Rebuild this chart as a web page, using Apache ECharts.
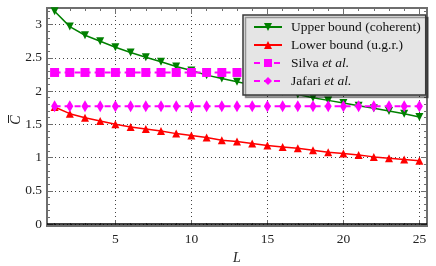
<!DOCTYPE html>
<html>
<head>
<meta charset="utf-8">
<script src="https://cdn.jsdelivr.net/npm/echarts@6/dist/echarts.min.js"></script>
<style>html,body{margin:0;padding:0;background:#fff}#c{width:436px;height:266px}</style>
</head>
<body>
<div id="c"></div>
<script>
// ---- data ----
const L = [1,2,3,4,5,6,7,8,9,10,11,12,13,14,15,16,17,18,19,20,21,22,23,24,25];
const upperCoherent = [3.20,2.97,2.84,2.75,2.66,2.58,2.51,2.44,2.37,2.31,2.24,2.19,2.14,2.09,2.04,1.99,1.95,1.90,1.86,1.82,1.78,1.74,1.70,1.66,1.61];
const lowerUgr = [1.76,1.66,1.60,1.55,1.50,1.46,1.43,1.40,1.36,1.33,1.30,1.26,1.24,1.21,1.18,1.16,1.14,1.11,1.08,1.06,1.04,1.01,0.99,0.97,0.95];
const silva = [2.28,2.28,2.28,2.28,2.28,2.28,2.28,2.28,2.28,2.28,2.28,2.28,2.28,2.28,2.28,2.28,2.28,2.28,2.28,2.28,2.28,2.28,2.28,2.28,2.28];
const jafari = [1.77,1.77,1.77,1.77,1.77,1.77,1.77,1.77,1.77,1.77,1.77,1.77,1.77,1.77,1.77,1.77,1.77,1.77,1.77,1.77,1.77,1.77,1.77,1.77,1.77];
const xMajor = [5,10,15,20,25];
const xMinor = [1,2,3,4,6,7,8,9,11,12,13,14,16,17,18,19,21,22,23,24];
const yMajor = [0,0.5,1,1.5,2,2.5,3];
const yMinor = [0.1,0.2,0.3,0.4,0.6,0.7,0.8,0.9,1.1,1.2,1.3,1.4,1.6,1.7,1.8,1.9,2.1,2.2,2.3,2.4,2.6,2.7,2.8,2.9,3.1,3.2];
const names = ['Upper bound (coherent)','Lower bound (u.g.r.)','Silva et al.','Jafari et al.'];

const pairs = arr => L.map((l,i)=>[l,arr[i]]);
const FONT = '"Liberation Serif", "DejaVu Serif", serif';
const frame = {show:true, onZero:false, lineStyle:{color:'#6e6e6e', width:2}};
const tickC = '#6e6e6e';
const XMIN = 0.5, XMAX = 25.5, YMIN = -0.03, YMAX = 3.25;

function xAx(pos, vals, len, labels, split){
  return {
    type:'value', position:pos, min:XMIN, max:XMAX,
    axisLine: frame,
    axisTick:{show:true, inside:true, length:len, customValues:vals, lineStyle:{color:tickC, width:1}},
    axisLabel: labels ? {show:true, customValues:vals, fontFamily:FONT, fontSize:13.5, color:'#222', margin:6} : {show:false},
    splitLine: split ? {show:true, lineStyle:{color:'#444', type:[1,3], width:1}} : {show:false},
    name: labels ? 'L' : '', nameLocation:'middle', nameGap:22,
    nameTextStyle:{fontFamily:FONT, fontSize:14, fontStyle:'italic', color:'#222'}
  };
}
function yAx(pos, vals, len, labels, split){
  return {
    type:'value', position:pos, min:YMIN, max:YMAX,
    axisLine: frame,
    axisTick:{show:true, inside:true, length:len, customValues:vals, lineStyle:{color:tickC, width:1}},
    axisLabel: labels ? {show:true, customValues:vals, fontFamily:FONT, fontSize:13.5, color:'#222', margin:5} : {show:false},
    splitLine: split ? {show:true, lineStyle:{color:'#444', type:[1,3], width:1}} : {show:false}
  };
}

const chart = echarts.init(document.getElementById('c'), null, {renderer:'canvas'});
chart.setOption({
  animation:false,
  backgroundColor:'#fff',
  grid:{left:47, right:9, top:8, bottom:40, containLabel:false, outerBoundsMode:'none'},
  xAxis:[ xAx('bottom', xMajor, 6, true, true), xAx('bottom', xMinor, 3, false, false),
          xAx('top', xMajor, 6, false, false), xAx('top', xMinor, 3, false, false) ],
  yAxis:[ yAx('left', yMajor, 6, true, true), yAx('left', yMinor, 3, false, false),
          yAx('right', yMajor, 6, false, false), yAx('right', yMinor, 3, false, false) ],
  graphic:[{
    type:'group', x:16, y:120, rotation:Math.PI/2, silent:true,
    children:[
      {type:'text', x:0, y:0, style:{text:'C', font:'italic 14px "Liberation Serif", serif', fill:'#222', align:'center', verticalAlign:'middle'}},
      {type:'line', shape:{x1:-3, y1:-7.5, x2:5, y2:-7.5}, style:{stroke:'#222', lineWidth:1}}
    ]
  }],
  legend:{
    left:243, top:15, orient:'vertical', z:20, zlevel:0,
    itemWidth:28, itemHeight:10, itemGap:2,
    padding:[4,5,6,10],
    backgroundColor:'#e5e5e5', borderColor:'#3a3a3a', borderWidth:1.5, borderRadius:0,
    shadowColor:'rgba(0,0,0,0.35)', shadowOffsetX:2.5, shadowOffsetY:2.5, shadowBlur:0,
    textStyle:{fontFamily:FONT, fontSize:13.5, lineHeight:16, color:'#111', padding:[0,0,0,4],
      rich:{i:{fontFamily:FONT, fontSize:13.5, lineHeight:16, fontStyle:'italic', color:'#111'}}},
    formatter: n => n.replace('et al.', '{i|et al.}'),
    data: names
  },
  series:[
    {name:names[0], type:'line', data:pairs(upperCoherent), symbol:'triangle', symbolRotate:180, symbolSize:8,
     itemStyle:{color:'#008000'}, lineStyle:{color:'#008000', width:1.5}, z:2},
    {name:names[1], type:'line', data:pairs(lowerUgr), symbol:'triangle', symbolSize:8,
     itemStyle:{color:'#ff0000'}, lineStyle:{color:'#ff0000', width:1.5}, z:2,
     markLine:{silent:true, symbol:'none', label:{show:false}, data:[{yAxis:0}],
       lineStyle:{color:'#000', type:'solid', width:1.5}}},
    {name:names[2], type:'line', data:pairs(silva), symbol:'rect', symbolSize:9,
     itemStyle:{color:'#ff00ff'}, lineStyle:{color:'#ff00ff', width:2, type:[6,4]}, z:2},
    {name:names[3], type:'line', data:pairs(jafari), symbol:'diamond', symbolSize:[7,12],
     itemStyle:{color:'#ff00ff'}, lineStyle:{color:'#ff00ff', width:2, type:[6,4]}, z:2}
  ]
});
</script>
</body>
</html>
